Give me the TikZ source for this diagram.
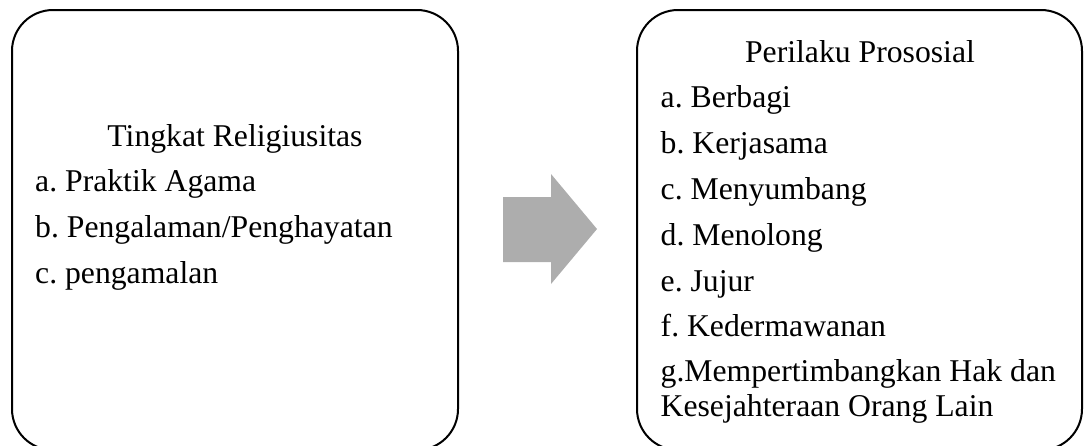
\documentclass[tikz,border=0pt]{standalone}
\usepackage{fontspec}
\setmainfont{Liberation Serif}
\frenchspacing
\definecolor{arrowgray}{RGB}{173,173,173}
\begin{document}
\begin{tikzpicture}[x=1pt,y=-1pt,
  txt/.style={anchor=base west, inner sep=0pt, font=\fontsize{31.7}{38}\selectfont},
  ttl/.style={anchor=base, inner sep=0pt, font=\fontsize{31.7}{38}\selectfont},
  panel/.style={draw, line width=2pt, rounded corners=41pt, inner sep=0pt}]
\useasboundingbox (0,0) rectangle (1088,445);
\node[panel, minimum width=446pt, minimum height=440pt] (leftbox) at (235,230) {};
\node[panel, minimum width=445pt, minimum height=440pt] (rightbox) at (859.5,230) {};
\fill[arrowgray] (503,197) -- (551,197) -- (551,174) -- (597,229) -- (551,284) -- (551,262) -- (503,262) -- cycle;
% left texts
\node[ttl] (lt) at (235,146) {Tingkat Religiusitas};
\node[txt] (la) at (35,191.7) {a. Praktik Agama};
\node[txt] (lb) at (35,237.5) {b. Pengalaman/Penghayatan};
\node[txt] (lc) at (35,283.3) {c. pengamalan};
% right texts
\node[ttl] (rt) at (860,62.3) {Perilaku Prososial};
\node[txt] (ra) at (660.5,107.3) {a. Berbagi};
\node[txt] (rb) at (660.5,153.3) {b. Kerjasama};
\node[txt] (rc) at (660.5,199.3) {c. Menyumbang};
\node[txt] (rd) at (660.5,245.3) {d. Menolong};
\node[txt] (re) at (660.5,291.2) {e. Jujur};
\node[txt] (rf) at (660.5,336.9) {f. Kedermawanan};
\node[txt] (rg) at (660.5,381.7) {g.Mempertimbangkan Hak dan};
\node[txt] (rh) at (660.5,416.7) {Kesejahteraan Orang Lain};
\end{tikzpicture}
\end{document}
